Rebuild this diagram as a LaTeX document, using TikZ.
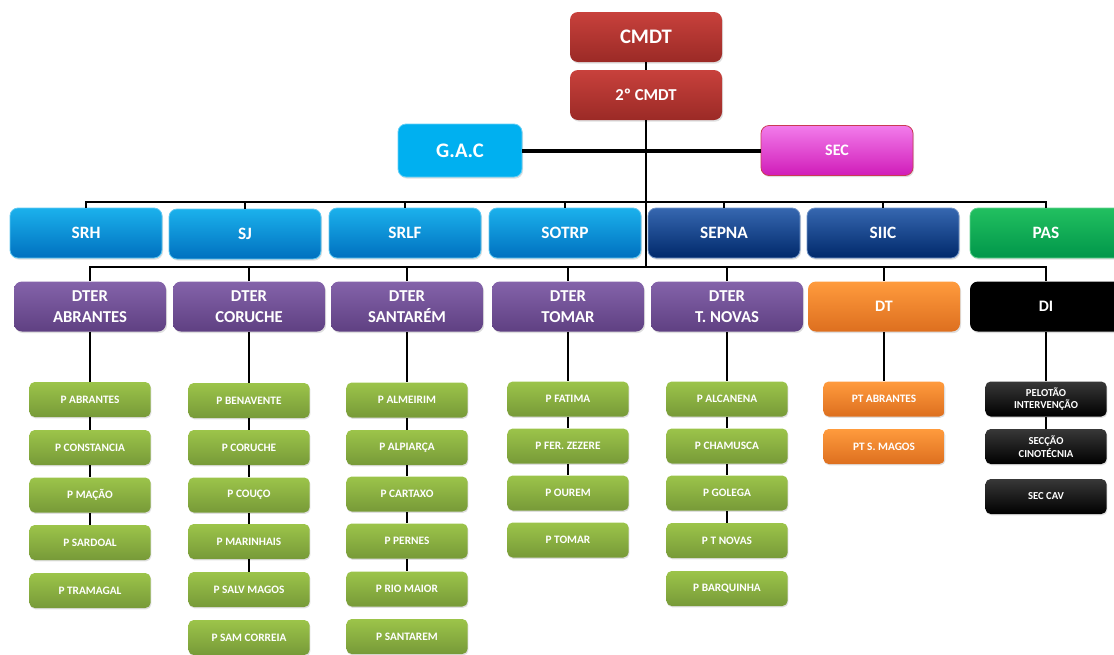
\documentclass[tikz,border=0pt]{standalone}
\usepackage{fontspec}
\setmainfont{Carlito}
\usepackage{xcolor}
\usepackage{tikz}
\usetikzlibrary{shadows}

\definecolor{redtop}{HTML}{C8413C}
\definecolor{redbot}{HTML}{9B2A26}
\definecolor{gaccyan}{HTML}{00B0F0}
\definecolor{magtop}{HTML}{F27CEB}
\definecolor{magbot}{HTML}{D01CB8}
\definecolor{bluetop}{HTML}{1BB1EC}
\definecolor{bluebot}{HTML}{0070BF}
\definecolor{navytop}{HTML}{3667B0}
\definecolor{navybot}{HTML}{00296B}
\definecolor{pastop}{HTML}{22C060}
\definecolor{pasbot}{HTML}{00964A}
\definecolor{purtop}{HTML}{8463AA}
\definecolor{purbot}{HTML}{5F4082}
\definecolor{orgtop}{HTML}{FF9B3D}
\definecolor{orgbot}{HTML}{DD6F1F}
\definecolor{ltgtop}{HTML}{9CC44A}
\definecolor{ltgbot}{HTML}{779A38}

\begin{document}
\begin{tikzpicture}[x=0.75pt, y=-0.75pt,
  box/.style={rectangle, rounded corners=6pt, minimum width=114pt, minimum height=37.5pt, inner sep=2pt, align=center, text=white, font=\bfseries\fontsize{13}{16}\selectfont, drop shadow={opacity=0.25, shadow xshift=0.8pt, shadow yshift=-1.2pt}},
  post/.style={rectangle, rounded corners=4pt, minimum width=91pt, minimum height=26.25pt, inner sep=1pt, align=center, text=white, font=\bfseries\fontsize{8.5}{9.5}\selectfont, drop shadow={opacity=0.25, shadow xshift=0.6pt, shadow yshift=-1pt}},
  redbox/.style={box, top color=redtop, bottom color=redbot},
  bluebox/.style={box, top color=bluetop, bottom color=bluebot, draw=bluetop!70!white, line width=0.6pt},
  navybox/.style={box, top color=navytop, bottom color=navybot, draw=navytop!70!white, line width=0.6pt},
  purbox/.style={box, top color=purtop, bottom color=purbot},
  gpost/.style={post, top color=ltgtop, bottom color=ltgbot},
  opost/.style={post, top color=orgtop, bottom color=orgbot},
  kpost/.style={post, top color=black!78, bottom color=black, font=\bfseries\fontsize{8}{9.5}\selectfont},
  line/.style={draw=black, line width=1.6pt},
  thickline/.style={draw=black, line width=3pt}
]
\useasboundingbox (0,0) rectangle (1114,654);

% Command
\node[redbox, font=\bfseries\fontsize{15.5}{18}\selectfont] (cmdt) at (646,37) {CMDT};
\node[redbox, font=\bfseries\fontsize{12.5}{15}\selectfont] (cmdt2) at (646,95) {2º CMDT};

% Staff beside the command
\node[box, fill=gaccyan, draw=gaccyan!60!white, line width=0.6pt, minimum width=93pt, minimum height=39.75pt, font=\bfseries\fontsize{15.5}{18}\selectfont] (gac) at (460,150.5) {G.A.C};
\node[box, top color=magtop, bottom color=magbot, draw=redtop!80!magbot, line width=0.6pt, font=\bfseries\fontsize{12}{14}\selectfont] (sec) at (837,150.5) {SEC};

% Bus coordinates
\coordinate (busA) at (646,202);
\coordinate (busB) at (646,267);

\draw[line] (cmdt) -- (cmdt2);
\draw[thickline] (gac) -- (sec);
\draw[line] (cmdt2) -- (busB);

% Sections
\node[bluebox] (srh) at (86,233) {SRH};
\node[bluebox] (sj) at (245,234) {SJ};
\node[bluebox] (srlf) at (405,233) {SRLF};
\node[bluebox] (sotrp) at (565,233) {SOTRP};
\node[navybox] (sepna) at (724,233) {SEPNA};
\node[navybox] (siic) at (883,233) {SIIC};
\node[box, top color=pastop, bottom color=pasbot, draw=pastop!70!white, line width=0.6pt] (pas) at (1046,233) {PAS};

\draw[line] (srh.north) |- (busA) -| (pas.north);
\draw[line] (sj.north) -- (sj.north |- busA);
\draw[line] (srlf.north) -- (srlf.north |- busA);
\draw[line] (sotrp.north) -- (sotrp.north |- busA);
\draw[line] (sepna.north) -- (sepna.north |- busA);
\draw[line] (siic.north) -- (siic.north |- busA);

% Territorial detachments
\node[purbox, font=\bfseries\fontsize{12.5}{16}\selectfont] (dab) at (90,306.5) {DTER\\ABRANTES};
\node[purbox, font=\bfseries\fontsize{12.5}{16}\selectfont] (dcor) at (249,306.5) {DTER\\CORUCHE};
\node[purbox, font=\bfseries\fontsize{12.5}{16}\selectfont] (dsan) at (407,306.5) {DTER\\SANTARÉM};
\node[purbox, font=\bfseries\fontsize{12.5}{16}\selectfont] (dtom) at (568,306.5) {DTER\\TOMAR};
\node[purbox, font=\bfseries\fontsize{12.5}{16}\selectfont] (dnov) at (727,306.5) {DTER\\T. NOVAS};
\node[box, top color=orgtop, bottom color=orgbot, font=\bfseries\fontsize{12}{14}\selectfont] (dt) at (884,306.5) {DT};
\node[box, fill=black, font=\bfseries\fontsize{12}{14}\selectfont] (di) at (1046,306.5) {DI};

\draw[line] (dab.north) |- (busB) -| (di.north);
\draw[line] (dcor.north) -- (dcor.north |- busB);
\draw[line] (dsan.north) -- (dsan.north |- busB);
\draw[line] (dtom.north) -- (dtom.north |- busB);
\draw[line] (dnov.north) -- (dnov.north |- busB);
\draw[line] (dt.north) -- (dt.north |- busB);

% Posts - DTER Abrantes
\node[gpost] (pabr) at (90,399.5) {P ABRANTES};
\node[gpost] (pcon) at (90,447.5) {P CONSTANCIA};
\node[gpost] (pmac) at (90,495) {P MAÇÃO};
\node[gpost] (psar) at (90,542.5) {P SARDOAL};
\node[gpost] (ptra) at (90,590.5) {P TRAMAGAL};
\draw[line] (dab) -- (pabr);
\draw[line] (pabr) -- (pcon);
\draw[line] (pcon) -- (pmac);
\draw[line] (pmac) -- (psar);

% Posts - DTER Coruche
\node[gpost] (pben) at (249,400.5) {P BENAVENTE};
\node[gpost] (pcor) at (249,447.5) {P CORUCHE};
\node[gpost] (pcou) at (249,495) {P COUÇO};
\node[gpost] (pmar) at (249,541.5) {P MARINHAIS};
\node[gpost] (psal) at (249,589.5) {P SALV MAGOS};
\node[gpost] (psam) at (249,637.5) {P SAM CORREIA};
\draw[line] (dcor) -- (pben);
\draw[line] (pben) -- (pcor);
\draw[line] (pcor) -- (pcou);
\draw[line] (pcou) -- (pmar);
\draw[line] (pmar) -- (psal);

% Posts - DTER Santarem
\node[gpost] (palm) at (407,400) {P ALMEIRIM};
\node[gpost] (palp) at (407,447.5) {P ALPIARÇA};
\node[gpost] (pcar) at (407,494) {P CARTAXO};
\node[gpost] (pper) at (407,541) {P PERNES};
\node[gpost] (prio) at (407,589) {P RIO MAIOR};
\node[gpost] (psnt) at (407,636.5) {P SANTAREM};
\draw[line] (dsan) -- (palm);
\draw[line] (palm) -- (palp);
\draw[line] (palp) -- (pcar);
\draw[line] (pcar) -- (pper);
\draw[line] (pper) -- (prio);

% Posts - DTER Tomar
\node[gpost] (pfat) at (568,399) {P FATIMA};
\node[gpost] (pfer) at (568,446) {P FER. ZEZERE};
\node[gpost] (pour) at (568,493) {P OUREM};
\node[gpost] (ptom) at (568,540) {P TOMAR};
\draw[line] (dtom) -- (pfat);
\draw[line] (pfat) -- (pfer);
\draw[line] (pfer) -- (pour);

% Posts - DTER T. Novas
\node[gpost] (palc) at (727,399) {P ALCANENA};
\node[gpost] (pcha) at (727,446) {P CHAMUSCA};
\node[gpost] (pgol) at (727,493) {P GOLEGA};
\node[gpost] (ptno) at (727,540.5) {P T NOVAS};
\node[gpost] (pbar) at (727,588.5) {P BARQUINHA};
\draw[line] (dnov) -- (palc);
\draw[line] (palc) -- (pcha);
\draw[line] (pcha) -- (pgol);
\draw[line] (pgol) -- (ptno);

% DT
\node[opost] (ptab) at (884,399) {PT ABRANTES};
\node[opost] (ptsm) at (884,446.5) {PT S. MAGOS};
\draw[line] (dt) -- (ptab);

% DI
\node[kpost] (pint) at (1046,399) {PELOTÃO\\INTERVENÇÃO};
\node[kpost] (scin) at (1046,446.5) {SECÇÃO\\CINOTÉCNIA};
\node[kpost] (scav) at (1046,496.5) {SEC CAV};
\draw[line] (di) -- (pint);
\draw[line] (pint) -- (scin);

\end{tikzpicture}
\end{document}
